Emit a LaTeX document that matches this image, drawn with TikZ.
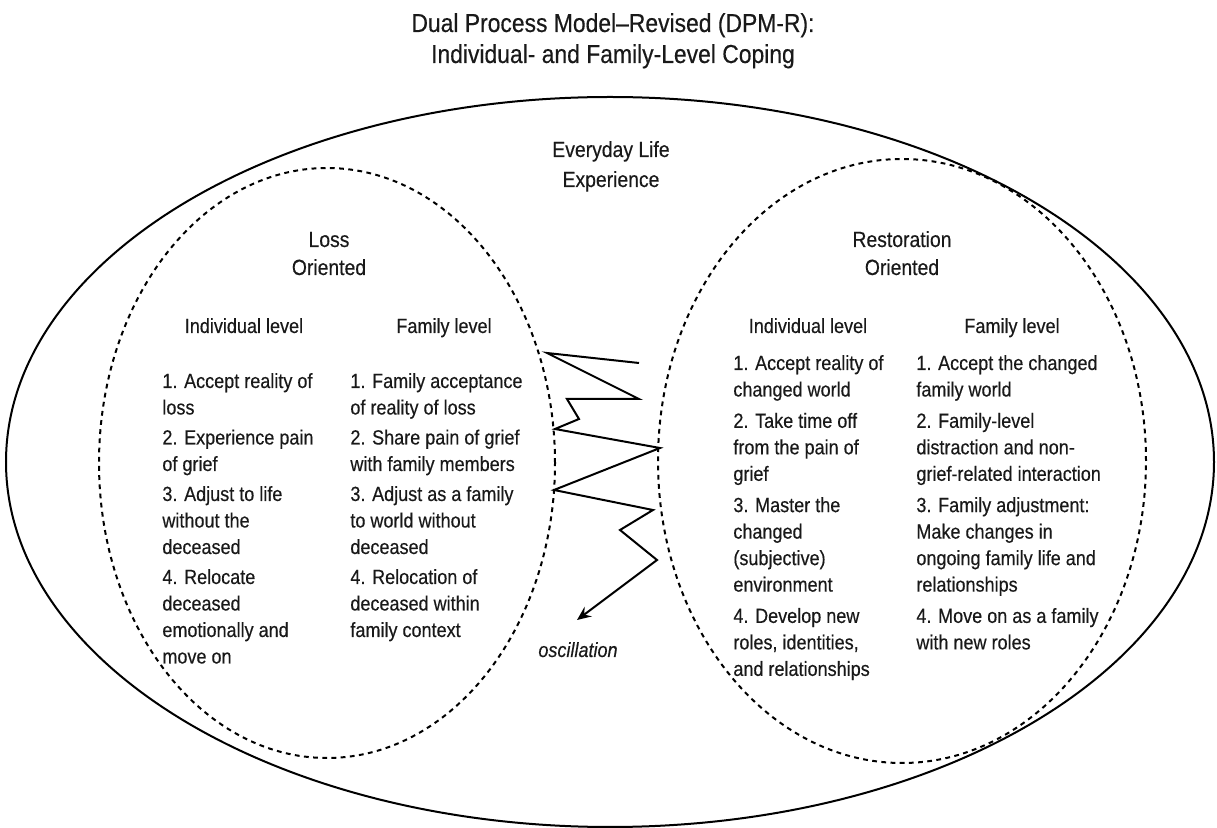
\documentclass[tikz,border=0pt]{standalone}
\usepackage{fontspec}
\setmainfont{Liberation Sans}[FakeStretch=0.88, FakeBold=0.35]
\usetikzlibrary{arrows.meta}

% font sizes
\newcommand{\titlesize}{\fontsize{13pt}{15.5pt}\selectfont}
\newcommand{\labelsize}{\fontsize{11pt}{14pt}\selectfont}
\newcommand{\bodysize}{\fontsize{10.25pt}{13.25pt}\selectfont}

\tikzset{
  outerring/.style={draw=black, line width=1pt},
  dashring/.style={draw=black, line width=1pt, dash pattern=on 2.4pt off 2.2pt},
  zigzag/.style={draw=black, line width=1pt, line join=miter},
  txt/.style={inner sep=0pt, text=black!90},
  heading/.style={txt, anchor=base, font=\bodysize},
  column/.style={txt, anchor=base west, font=\bodysize},
}

\begin{document}
\begin{tikzpicture}[x=0.5pt, y=-0.5pt]
  \useasboundingbox (0,0) rectangle (1217,828);

  % title
  \node[txt, anchor=base, font=\titlesize] (title) at (613,32)
    {\begin{tabular}[t]{@{}c@{}}Dual Process Model--Revised (DPM-R):\\Individual- and Family-Level Coping\end{tabular}};

  % outer ring and the two orientation rings
  \draw[outerring] (610,462) ellipse [x radius=302pt, y radius=182.5pt];
  \draw[dashring] (327,463) ellipse [x radius=114pt, y radius=147.5pt];
  \draw[dashring] (902,461) ellipse [x radius=122pt, y radius=151pt];

  \node[txt, anchor=base, font=\labelsize] (everyday) at (611,157)
    {\begin{tabular}[t]{@{}c@{}}Everyday Life\\[1pt]Experience\end{tabular}};

  \node[txt, anchor=base, font=\labelsize] (loss) at (329,247)
    {\begin{tabular}[t]{@{}c@{}}Loss\\Oriented\end{tabular}};
  \node[txt, anchor=base, font=\labelsize] (rest) at (902,247)
    {\begin{tabular}[t]{@{}c@{}}Restoration\\Oriented\end{tabular}};

  % column headings
  \node[heading] (lossind) at (244,333) {Individual level};
  \node[heading] (lossfam) at (444,333) {Family level};
  \node[heading] (restind) at (808,333) {Individual level};
  \node[heading] (restfam) at (1012,333) {Family level};

  % loss-oriented tasks
  \node[column] (lossindtxt) at (162,388) {\begin{tabular}[t]{@{}l@{}}
    1. Accept reality of\\loss\\[1.75pt]
    2. Experience pain\\of grief\\[1.75pt]
    3. Adjust to life\\without the\\deceased\\[1.75pt]
    4. Relocate\\deceased\\emotionally and\\move on\end{tabular}};
  \node[column] (lossfamtxt) at (350,388) {\begin{tabular}[t]{@{}l@{}}
    1. Family acceptance\\of reality of loss\\[1.75pt]
    2. Share pain of grief\\with family members\\[1.75pt]
    3. Adjust as a family\\to world without\\deceased\\[1.75pt]
    4. Relocation of\\deceased within\\family context\end{tabular}};

  % restoration-oriented tasks
  \node[column] (restindtxt) at (733,370) {\begin{tabular}[t]{@{}l@{}}
    1. Accept reality of\\changed world\\[2.4pt]
    2. Take time off\\from the pain of\\grief\\[2.4pt]
    3. Master the\\changed\\(subjective)\\environment\\[2.4pt]
    4. Develop new\\roles, identities,\\and relationships\end{tabular}};
  \node[column] (restfamtxt) at (916,370) {\begin{tabular}[t]{@{}l@{}}
    1. Accept the changed\\family world\\[2.4pt]
    2. Family-level\\distraction and non-\\grief-related interaction\\[2.4pt]
    3. Family adjustment:\\Make changes in\\ongoing family life and\\relationships\\[2.4pt]
    4. Move on as a family\\with new roles\end{tabular}};

  % oscillation between the two orientations
  \node[txt, anchor=base, font=\bodysize\itshape] (osc) at (578,657) {oscillation};
  \coordinate (z0) at (639,363);
  \coordinate (z1) at (547,353);
  \coordinate (z2) at (639,399);
  \coordinate (z3) at (567,399);
  \coordinate (z4) at (579,419);
  \coordinate (z5) at (555,429);
  \coordinate (z6) at (660,448);
  \coordinate (z7) at (554,490);
  \coordinate (z8) at (653,510);
  \coordinate (z9) at (620,530);
  \coordinate (z10) at (657,560);
  \coordinate (ztip) at (577,620);
  \draw[zigzag, -{Stealth[length=7pt, width=6pt, inset=2.5pt]}]
    (z0) -- (z1) -- (z2) -- (z3) -- (z4) -- (z5) -- (z6) -- (z7)
    -- (z8) -- (z9) -- (z10) -- (ztip);
\end{tikzpicture}
\end{document}
